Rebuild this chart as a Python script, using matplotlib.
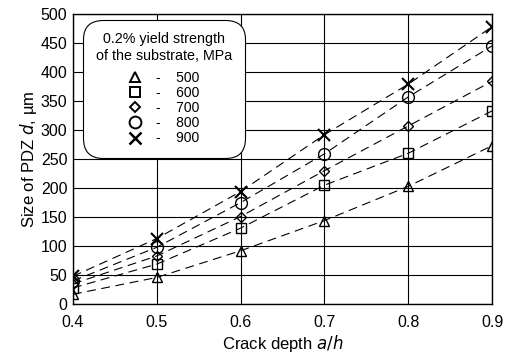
import numpy as np
import matplotlib
matplotlib.use("Agg")
import matplotlib.pyplot as plt
from matplotlib.lines import Line2D

plt.rcParams['font.family'] = ['Liberation Sans', 'DejaVu Sans']

# datos
depth = [0.4, 0.5, 0.6, 0.7, 0.8, 0.9]
strength = ['500', '600', '700', '800', '900']
d500 = [17, 46, 92, 144, 203, 273]
d600 = [28, 69, 131, 205, 260, 333]
d700 = [35, 83, 151, 230, 307, 384]
d800 = [40, 98, 175, 259, 357, 445]
d900 = [48, 113, 194, 292, 379, 478]
series = [d500, d600, d700, d800, d900]
markers = ['^', 's', 'D', 'o', 'x']
msizes = [7.5, 7.5, 5.5, 8.5, 8.5]

fig = plt.figure(figsize=(5.1, 3.57), dpi=100)
ax = fig.add_axes([0.143, 0.148, 0.822, 0.813])

for vals, m, ms in zip(series, markers, msizes):
    ax.plot(depth, vals, color='black', lw=0.8, ls=(0, (8, 5)),
            marker=m, ms=ms, mfc='none', mec='black', mew=1.5 if m == 'x' else 1.0)

ax.set_xlim(0.4, 0.9)
ax.set_ylim(0, 500)
ax.set_xticks(depth)
ax.set_yticks(np.arange(0, 501, 50))
ax.grid(True, color='black', lw=0.8)
ax.tick_params(length=0, labelsize=11.5)
ax.tick_params(axis='x', pad=8)
ax.tick_params(axis='y', pad=4)
for s in ax.spines.values():
    s.set_linewidth(1.0)
ax.set_xlabel('Crack depth $\\it{a/h}$', fontsize=12, labelpad=2)
ax.set_ylabel('Size of PDZ $\\it{d}$, µm', fontsize=12, labelpad=1)

handles = [Line2D([], [], ls='none', marker=m, ms=ms, mfc='none', mec='black',
                  mew=1.8 if m == 'x' else 1.4)
           for m, ms in zip(markers, msizes)]
labels = ['-    ' + s for s in strength]
leg = ax.legend(handles, labels, title='0.2% yield strength\nof the substrate, MPa',
                loc='upper left', bbox_to_anchor=(0.035, 0.965), fontsize=10,
                title_fontsize=10.3, frameon=True, fancybox=True, handlelength=1.0,
                handletextpad=1.0, labelspacing=0.08, borderpad=0.6,
                borderaxespad=0)
leg.get_frame().set_edgecolor('black')
leg.get_frame().set_linewidth(0.8)
leg.get_frame().set_alpha(1)
leg.get_frame().set_boxstyle('round,pad=0.3,rounding_size=1.4')
leg._legend_box.align = 'center'
leg._legend_box.sep = 6
leg.get_title().set_multialignment('center')

fig.savefig('out.png', dpi=100)
